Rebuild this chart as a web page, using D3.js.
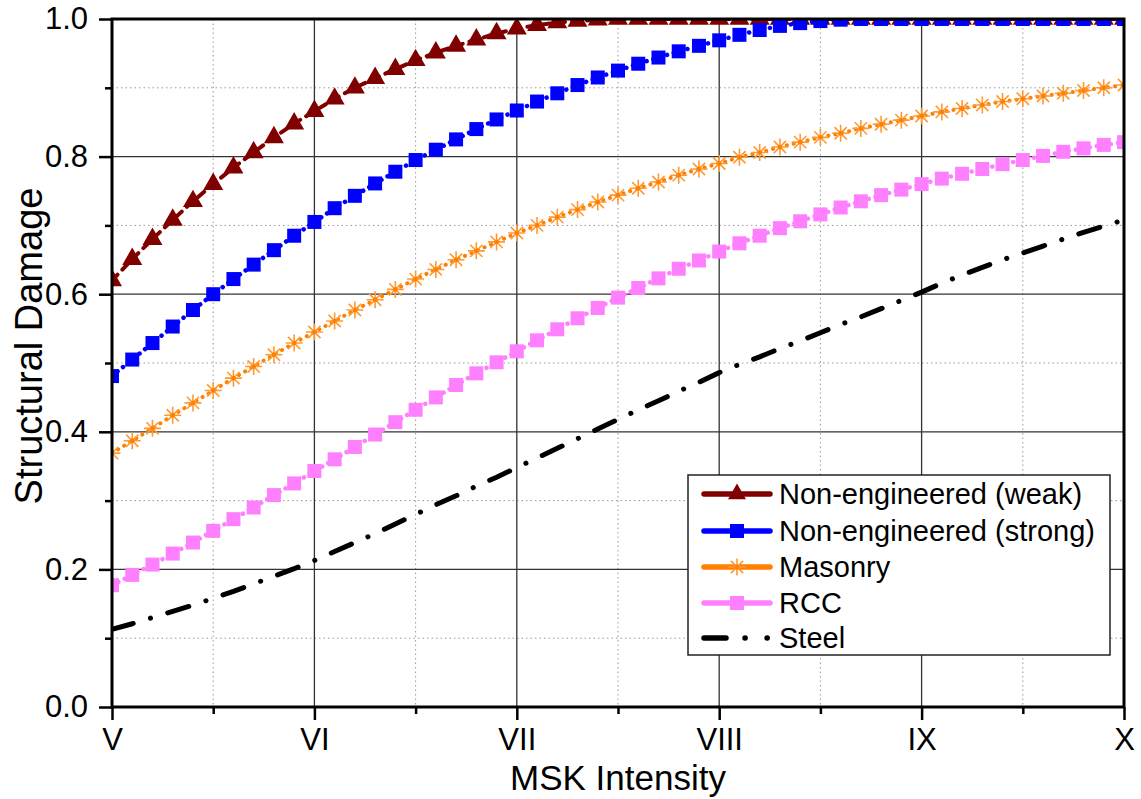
<!DOCTYPE html>
<html>
<head>
<meta charset="utf-8">
<script src="https://cdn.jsdelivr.net/npm/d3@7"></script>
<style>
  body { margin: 0; background: #fff; }
  text { font-family: "Liberation Sans", Arial, sans-serif; fill: #000; }
</style>
</head>
<body>
<div id="chart"></div>
<script>
// MSK intensity sampled every 0.1 from V (5) to X (10)
var intensity = d3.range(0, 51).map(function (i) { return 5 + i / 10; });

var romanLabels = ["V", "VI", "VII", "VIII", "IX", "X"];
var majorX = [5, 6, 7, 8, 9, 10];
var minorX = [5.5, 6.5, 7.5, 8.5, 9.5];
var majorY = [0, 0.2, 0.4, 0.6, 0.8, 1.0];
var minorY = [0.1, 0.3, 0.5, 0.7, 0.9];

var weakDamage = [0.620, 0.651, 0.680, 0.708, 0.735, 0.760, 0.784, 0.806, 0.828, 0.848,
  0.866, 0.884, 0.900, 0.914, 0.927, 0.940, 0.951, 0.961, 0.970, 0.979,
  0.986, 0.991, 0.995, 0.997, 0.999, 1.0, 1.0, 1.0, 1.0, 1.0,
  1.0, 1.0, 1.0, 1.0, 1.0, 1.0, 1.0, 1.0, 1.0, 1.0,
  1.0, 1.0, 1.0, 1.0, 1.0, 1.0, 1.0, 1.0, 1.0, 1.0, 1.0];
var strongDamage = [0.481, 0.505, 0.529, 0.553, 0.577, 0.600, 0.622, 0.643, 0.664, 0.685,
  0.705, 0.725, 0.743, 0.761, 0.778, 0.795, 0.810, 0.825, 0.840, 0.854,
  0.867, 0.880, 0.892, 0.904, 0.915, 0.925, 0.935, 0.944, 0.953, 0.961,
  0.969, 0.977, 0.984, 0.990, 0.994, 0.997, 0.999, 1.0, 1.0, 1.0,
  1.0, 1.0, 1.0, 1.0, 1.0, 1.0, 1.0, 1.0, 1.0, 1.0, 1.0];
var masonryDamage = [0.369, 0.387, 0.405, 0.424, 0.442, 0.460, 0.478, 0.495, 0.512, 0.529,
  0.545, 0.561, 0.577, 0.592, 0.607, 0.622, 0.636, 0.650, 0.663, 0.676,
  0.689, 0.700, 0.712, 0.723, 0.734, 0.744, 0.754, 0.763, 0.773, 0.782,
  0.790, 0.799, 0.806, 0.814, 0.821, 0.828, 0.834, 0.841, 0.847, 0.853,
  0.859, 0.865, 0.870, 0.875, 0.880, 0.884, 0.888, 0.892, 0.896, 0.900, 0.904];
var rccDamage = [0.177, 0.192, 0.207, 0.223, 0.239, 0.256, 0.273, 0.290, 0.308, 0.325,
  0.343, 0.360, 0.378, 0.396, 0.414, 0.432, 0.450, 0.468, 0.485, 0.501,
  0.517, 0.533, 0.549, 0.565, 0.580, 0.595, 0.609, 0.623, 0.637, 0.649,
  0.662, 0.674, 0.685, 0.696, 0.706, 0.716, 0.726, 0.735, 0.744, 0.752,
  0.760, 0.768, 0.775, 0.782, 0.789, 0.795, 0.801, 0.807, 0.812, 0.817, 0.821];
var steelDamage = [0.113, 0.121, 0.130, 0.139, 0.148, 0.158, 0.168, 0.179, 0.190, 0.201,
  0.213, 0.226, 0.239, 0.252, 0.266, 0.280, 0.294, 0.307, 0.321, 0.334,
  0.348, 0.362, 0.376, 0.390, 0.404, 0.418, 0.432, 0.445, 0.459, 0.472,
  0.486, 0.498, 0.509, 0.521, 0.532, 0.544, 0.556, 0.567, 0.579, 0.591,
  0.603, 0.616, 0.628, 0.639, 0.650, 0.660, 0.670, 0.680, 0.690, 0.699, 0.708];

var seriesNames = ["Non-engineered (weak)", "Non-engineered (strong)", "Masonry", "RCC", "Steel"];

var series = [
  { name: seriesNames[0], values: weakDamage, line: "#800000", marker: "triangle", fill: "#800000", dash: "8 7", width: 4 },
  { name: seriesNames[1], values: strongDamage, line: "#0000ff", marker: "square", fill: "#0000ff", dash: "0.1 7", width: 4.5 },
  { name: seriesNames[2], values: masonryDamage, line: "#ff8000", marker: "asterisk", fill: "#ff9a33", dash: "0.1 7", width: 4 },
  { name: seriesNames[3], values: rccDamage, line: "#ff80ff", marker: "square", fill: "#ff80ff", dash: "0.1 7", width: 4.5 },
  { name: seriesNames[4], values: steelDamage, line: "#000000", marker: null, fill: null, dash: "22 18 0.1 18", width: 5 }
];

var W = 1141, H = 799;
var plotL = 112, plotR = 1124, plotT = 19, plotB = 707;

var svg = d3.select("#chart").append("svg").attr("width", W).attr("height", H);

var x = d3.scaleLinear().domain([5, 10]).range([plotL, plotR]);
var y = d3.scaleLinear().domain([0, 1]).range([plotB, plotT]);

svg.append("defs").append("clipPath").attr("id", "plotclip")
  .append("rect").attr("x", plotL).attr("y", plotT).attr("width", plotR - plotL).attr("height", plotB - plotT);

// grid
var grid = svg.append("g");
grid.selectAll("line.mx").data(minorX).enter().append("line")
  .attr("x1", x).attr("x2", x).attr("y1", plotT).attr("y2", plotB)
  .attr("stroke", "#999").attr("stroke-width", 1).attr("stroke-dasharray", "1.5 3");
grid.selectAll("line.my").data(minorY).enter().append("line")
  .attr("x1", plotL).attr("x2", plotR).attr("y1", y).attr("y2", y)
  .attr("stroke", "#999").attr("stroke-width", 1).attr("stroke-dasharray", "1.5 3");
grid.selectAll("line.Mx").data(majorX.slice(1, -1)).enter().append("line")
  .attr("x1", x).attr("x2", x).attr("y1", plotT).attr("y2", plotB)
  .attr("stroke", "#333").attr("stroke-width", 1.3);
grid.selectAll("line.My").data(majorY.slice(1, -1)).enter().append("line")
  .attr("x1", plotL).attr("x2", plotR).attr("y1", y).attr("y2", y)
  .attr("stroke", "#333").attr("stroke-width", 1.3);

// markers
function drawMarker(g, kind, color, cx, cy, s) {
  if (kind === "triangle") {
    var h = s * 0.87;
    g.append("path")
      .attr("d", "M" + cx + "," + (cy - h * 2 / 3) + "L" + (cx + s / 2) + "," + (cy + h / 3) + "L" + (cx - s / 2) + "," + (cy + h / 3) + "Z")
      .attr("fill", color);
  } else if (kind === "square") {
    g.append("rect").attr("x", cx - s / 2).attr("y", cy - s / 2).attr("width", s).attr("height", s)
      .attr("fill", color);
  } else if (kind === "asterisk") {
    var r = s / 2, d = r * 0.72;
    g.append("path")
      .attr("d", "M" + (cx - r) + "," + cy + "H" + (cx + r) + "M" + cx + "," + (cy - r) + "V" + (cy + r) +
        "M" + (cx - d) + "," + (cy - d) + "L" + (cx + d) + "," + (cy + d) +
        "M" + (cx - d) + "," + (cy + d) + "L" + (cx + d) + "," + (cy - d))
      .attr("stroke", color).attr("stroke-width", 1.6).attr("fill", "none");
    g.append("circle").attr("cx", cx).attr("cy", cy).attr("r", 2.2).attr("fill", "#ff8000");
  }
}

var plot = svg.append("g").attr("clip-path", "url(#plotclip)");
var line = d3.line().x(function (d) { return x(d[0]); }).y(function (d) { return y(d[1]); });
var markerSize = { triangle: 20, square: 14, asterisk: 17 };

series.forEach(function (s) {
  var pts = intensity.map(function (t, i) { return [t, s.values[i]]; });
  plot.append("path").attr("d", line(pts))
    .attr("fill", "none").attr("stroke", s.line).attr("stroke-width", s.width)
    .attr("stroke-linecap", "round").attr("stroke-dasharray", s.dash);
  if (s.marker) {
    var mg = plot.append("g");
    pts.forEach(function (p) { drawMarker(mg, s.marker, s.fill, x(p[0]), y(p[1]), markerSize[s.marker]); });
  }
});

// frame
svg.append("rect").attr("x", plotL).attr("y", plotT).attr("width", plotR - plotL).attr("height", plotB - plotT)
  .attr("fill", "none").attr("stroke", "#000").attr("stroke-width", 3);

// axes
var xMajor = d3.axisBottom(x).tickValues(majorX).tickSize(13).tickPadding(8)
  .tickFormat(function (d, i) { return romanLabels[i]; });
var xMinor = d3.axisBottom(x).tickValues(minorX).tickSize(7).tickFormat("");
var yMajor = d3.axisLeft(y).tickValues(majorY).tickSize(13).tickPadding(11).tickFormat(d3.format(".1f"));
var yMinor = d3.axisLeft(y).tickValues(minorY).tickSize(7).tickFormat("");

[[xMajor, "translate(0," + plotB + ")"], [xMinor, "translate(0," + plotB + ")"],
 [yMajor, "translate(" + plotL + ",0)"], [yMinor, "translate(" + plotL + ",0)"]].forEach(function (a) {
  var g = svg.append("g").attr("transform", a[1]).call(a[0]);
  g.select(".domain").remove();
  g.selectAll(".tick line").attr("stroke", "#000").attr("stroke-width", 2.5);
  g.selectAll(".tick text").attr("font-size", 31).attr("font-family", "Liberation Sans, Arial, sans-serif");
});

svg.append("text").attr("x", (plotL + plotR) / 2).attr("y", 790).attr("text-anchor", "middle")
  .attr("font-size", 35).text("MSK Intensity");
svg.append("text").attr("transform", "translate(42,346) rotate(-90)").attr("text-anchor", "middle")
  .attr("font-size", 38).text("Structural Damage");

// legend
var lg = svg.append("g");
lg.append("rect").attr("x", 688).attr("y", 475).attr("width", 422).attr("height", 180)
  .attr("fill", "#fff").attr("stroke", "#222").attr("stroke-width", 1.5);
var rowY = [494, 531, 567, 603, 638];
series.forEach(function (s, i) {
  var cy = rowY[i];
  if (s.marker) {
    lg.append("line").attr("x1", 704).attr("x2", 770).attr("y1", cy).attr("y2", cy)
      .attr("stroke", s.line).attr("stroke-width", 5.5).attr("stroke-linecap", "round");
    drawMarker(lg, s.marker, s.fill, 737, cy, s.marker === "triangle" ? 18 : (s.marker === "asterisk" ? 17 : 14));
  } else {
    lg.append("line").attr("x1", 704).attr("x2", 770).attr("y1", cy).attr("y2", cy)
      .attr("stroke", s.line).attr("stroke-width", 5.5).attr("stroke-linecap", "round")
      .attr("stroke-dasharray", "22 19 0.1 22 0.1 20");
  }
  lg.append("text").attr("x", 779).attr("y", cy).attr("dy", "0.36em").attr("font-size", 29).text(s.name);
});
</script>
</body>
</html>
